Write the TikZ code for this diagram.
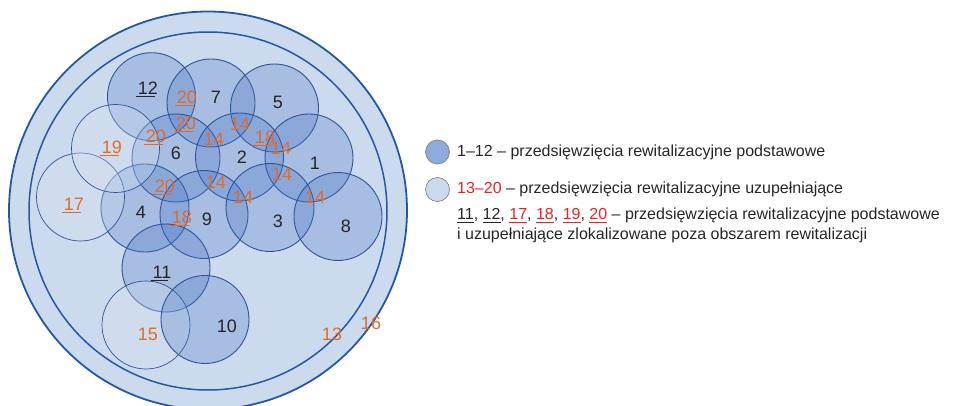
\documentclass[tikz,border=0pt]{standalone}
\usepackage{fontspec}
\setmainfont{Liberation Sans}
\definecolor{bgblue}{RGB}{204,218,237}
\definecolor{ringblue}{RGB}{36,88,166}
\definecolor{edgeblue}{RGB}{47,85,151}
\definecolor{fillblue}{RGB}{68,114,196}
\definecolor{supfill}{RGB}{214,226,242}
\definecolor{lblorange}{RGB}{226,107,42}
\definecolor{legred}{RGB}{236,32,36}
\definecolor{legdark}{RGB}{143,170,220}
\definecolor{leglight}{RGB}{204,218,238}
\definecolor{leggray}{RGB}{120,120,120}
\newcommand\ulnum[1]{\setbox0\hbox{#1}\rlap{\kern-1.5pt\smash{\rule[-2.6pt]{\dimexpr\wd0-2pt\relax}{0.8pt}}}\box0}
\newcommand\legul[1]{\setbox0\hbox{#1}\rlap{\smash{\rule[-2.4pt]{\wd0}{0.7pt}}}\box0}
\begin{document}
\begin{tikzpicture}[x=1pt,y=-1pt,
  prim/.style={circle,inner sep=0pt,minimum size=88pt,fill=fillblue,fill opacity=0.27,draw=edgeblue,line width=0.9pt},
  supp/.style={circle,inner sep=0pt,minimum size=88pt,fill=supfill,fill opacity=0.3,draw=edgeblue,line width=0.7pt},
  num/.style={inner sep=0pt,font=\fontsize{18}{20}\selectfont,text=black!85},
  onum/.style={num,text=lblorange},
  legtxt/.style={inner sep=0pt,anchor=base west,font=\fontsize{16}{19}\selectfont,text=black!85},
  legdot/.style={circle,inner sep=0pt,minimum size=24pt,draw=leggray,line width=0.6pt}]
\useasboundingbox (0,0) rectangle (964,406);
\clip (0,0) rectangle (964,406);
% area circles
\node[circle,inner sep=0pt,minimum size=398pt,fill=bgblue,draw=ringblue,line width=1.8pt] (c16) at (208,210.5) {};
\node[circle,inner sep=0pt,minimum size=358pt,draw=ringblue,line width=1.5pt] (c13) at (208,211) {};
% primary projects
\node[prim] (c12) at (151.5,96.7) {};
\node[prim] (c7) at (211,103) {};
\node[prim] (c5) at (274.5,108) {};
\node[prim] (c6) at (176,158) {};
\node[prim] (c2) at (239.5,157) {};
\node[prim] (c1) at (309,158) {};
\node[prim] (c4) at (145,208) {};
\node[prim] (c9) at (204,214.5) {};
\node[prim] (c3) at (270,207.5) {};
\node[prim] (c8) at (338,216.5) {};
\node[prim] (c11) at (166,268) {};
% supplementary projects
\node[supp] (c17) at (80.5,197) {};
\node[supp] (c19) at (115.5,148.5) {};
\node[supp] (c15) at (146,325) {};
\node[prim] (c10) at (205,319.5) {};
% labels
\node[num] (l12) at (148,88) {\ulnum{12}};
\node[onum] (l20a) at (187,97) {\ulnum{20}};
\node[num] (l7) at (216,97) {7};
\node[num] (l5) at (278,102) {5};
\node[onum] (l20b) at (186,123) {\ulnum{20}};
\node[onum] (l14a) at (240,124) {14};
\node[onum] (l20c) at (156,136) {\ulnum{20}};
\node[onum] (l14b) at (214,139) {14};
\node[onum] (l18a) at (265,137) {\ulnum{18}};
\node[onum] (l14c) at (281,148) {14};
\node[onum] (l19) at (112,147) {\ulnum{19}};
\node[num] (l6) at (176,153) {6};
\node[num] (l2) at (242,157) {2};
\node[num] (l1) at (315,163) {1};
\node[onum] (l14d) at (282,174) {14};
\node[onum] (l14e) at (216,182) {14};
\node[onum] (l20d) at (165,186) {\ulnum{20}};
\node[onum] (l14f) at (243,197) {14};
\node[onum] (l14g) at (315,197) {14};
\node[onum] (l17) at (74,204) {\ulnum{17}};
\node[num] (l4) at (141,212) {4};
\node[onum] (l18b) at (182,217) {\ulnum{18}};
\node[num] (l9) at (207,219) {9};
\node[num] (l3) at (278,221) {3};
\node[num] (l8) at (346,226) {8};
\node[num] (l11) at (162,272) {\ulnum{11}};
\node[onum] (l15) at (148,334) {15};
\node[num] (l10) at (227,326) {10};
\node[onum] (l13) at (332,334) {13};
\node[onum] (l16) at (371,323) {16};
% legend
\node[legdot,fill=legdark] (d1) at (437.5,152) {};
\node[legdot,fill=leglight] (d2) at (437.5,189.5) {};
\node[legtxt] (t1) at (457,157) {1–12 – przedsięwzięcia rewitalizacyjne podstawowe};
\node[legtxt] (t2) at (457,194) {\textcolor{legred}{13–20} – przedsięwzięcia rewitalizacyjne uzupełniające};
\node[legtxt] (t3) at (457,220) {\legul{11}, \legul{12}, \textcolor{legred}{\legul{17}}, \textcolor{legred}{\legul{18}}, \textcolor{legred}{\legul{19}}, \textcolor{legred}{\legul{20}} – przedsięwzięcia rewitalizacyjne podstawowe};
\node[legtxt] (t4) at (457,239.5) {i uzupełniające zlokalizowane poza obszarem rewitalizacji};
\end{tikzpicture}
\end{document}
